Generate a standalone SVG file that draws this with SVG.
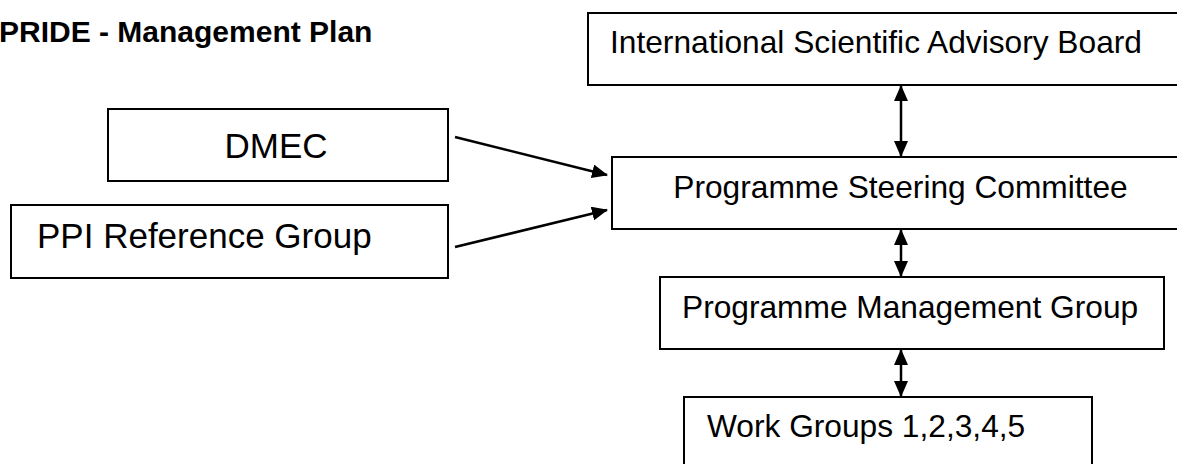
<svg xmlns="http://www.w3.org/2000/svg" width="1177" height="464" viewBox="0 0 1177 464">
  <style>
    .box { fill: #fff; stroke: #000; stroke-width: 2; }
    .lbl { font-family: "Liberation Sans", Arial, sans-serif; font-size: 31.7px; fill: #000; }
    .big { font-size: 35px; }
    .title { font-family: "Liberation Sans", Arial, sans-serif; font-size: 30px; font-weight: bold; fill: #000; }
    .link { stroke: #000; stroke-width: 2.5; fill: none; }
  </style>
  <defs>
    <!-- solid triangular head, reused at both ends of the two-way links -->
    <marker id="head" viewBox="0 0 16 14" refX="15" refY="7" markerWidth="16" markerHeight="14" markerUnits="userSpaceOnUse" orient="auto-start-reverse">
      <path d="M0,0 L16,7 L0,14 Z" fill="#000"/>
    </marker>
  </defs>
  <rect width="1177" height="464" fill="#fff"/>

  <text class="title" x="-1" y="42">PRIDE - Management Plan</text>

  <g id="isab">
    <rect class="box" x="588" y="13" width="600" height="72"/>
    <text class="lbl" x="610" y="53">International Scientific Advisory Board</text>
  </g>
  <g id="dmec">
    <rect class="box" x="108" y="109" width="340" height="72"/>
    <text class="lbl big" x="276" y="158" text-anchor="middle">DMEC</text>
  </g>
  <g id="ppi">
    <rect class="box" x="11" y="205" width="437" height="73"/>
    <text class="lbl big" x="37" y="248">PPI Reference Group</text>
  </g>
  <g id="psc">
    <rect class="box" x="612" y="157" width="580" height="72"/>
    <text class="lbl" x="900.5" y="198" text-anchor="middle">Programme Steering Committee</text>
  </g>
  <g id="pmg">
    <rect class="box" x="660" y="277" width="504" height="72"/>
    <text class="lbl" x="682" y="318">Programme Management Group</text>
  </g>
  <g id="wg">
    <rect class="box" x="684" y="397" width="408" height="80"/>
    <text class="lbl" x="707" y="437">Work Groups 1,2,3,4,5</text>
  </g>

  <g id="connectors">
    <line class="link" x1="901" y1="86" x2="901" y2="156" marker-start="url(#head)" marker-end="url(#head)"/>
    <line class="link" x1="901" y1="230" x2="901" y2="276" marker-start="url(#head)" marker-end="url(#head)"/>
    <line class="link" x1="901" y1="350" x2="901" y2="396" marker-start="url(#head)" marker-end="url(#head)"/>
    <line class="link" x1="455" y1="137" x2="607" y2="175" marker-end="url(#head)"/>
    <line class="link" x1="455" y1="247" x2="607" y2="210" marker-end="url(#head)"/>
  </g>
</svg>
